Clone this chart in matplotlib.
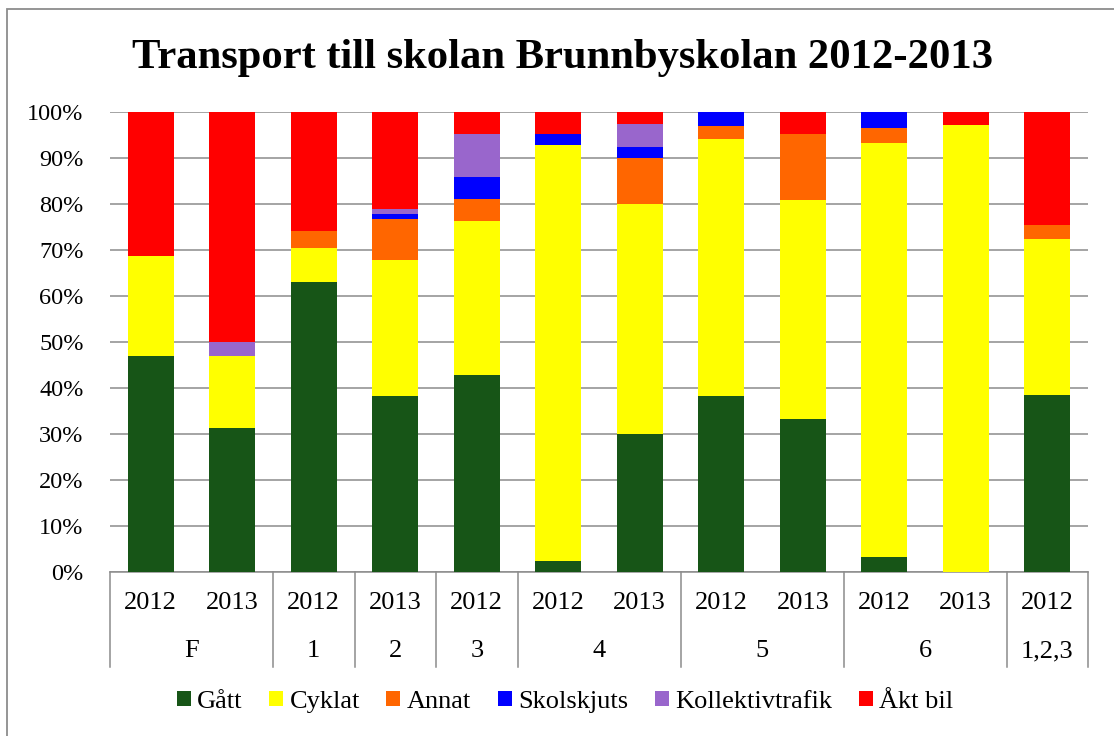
import matplotlib
matplotlib.use("Agg")
import matplotlib.pyplot as plt
from matplotlib.patches import Patch, Rectangle
from matplotlib.lines import Line2D
import numpy as np

plt.rcParams['font.family'] = ['Liberation Serif', 'DejaVu Serif']

years = ['2012', '2013', '2012', '2013', '2012', '2012', '2013', '2012', '2013', '2012', '2013', '2012']
groups = ['F', '1', '2', '3', '4', '5', '6', '1,2,3']
group_sizes = [2, 1, 1, 1, 2, 2, 2, 1]

series_names = ['Gått', 'Cyklat', 'Annat', 'Skolskjuts', 'Kollektivtrafik', 'Åkt bil']
gatt = [46.9, 31.3, 63.0, 38.3, 42.9, 2.4, 30.0, 38.2, 33.3, 3.3, 0.0, 38.5]
cyklat = [21.9, 15.6, 7.4, 29.5, 33.3, 90.5, 50.0, 55.9, 47.6, 90.0, 97.1, 33.8]
annat = [0.0, 0.0, 3.7, 9.0, 4.8, 0.0, 10.0, 2.9, 14.3, 3.3, 0.0, 3.1]
skolskjuts = [0.0, 0.0, 0.0, 1.0, 4.8, 2.4, 2.5, 2.9, 0.0, 3.3, 0.0, 0.0]
kollektiv = [0.0, 3.1, 0.0, 1.1, 9.5, 0.0, 5.0, 0.0, 0.0, 0.0, 0.0, 0.0]
akt_bil = [31.3, 50.0, 25.9, 21.1, 4.8, 4.8, 2.5, 0.0, 4.8, 0.0, 2.9, 24.6]
colors = ['#175517', '#FFFF00', '#FF6600', '#0000FF', '#9966CC', '#FF0000']

W, H = 1114, 736
fig = plt.figure(figsize=(W / 100, H / 100), dpi=100)
L, R, T, B = 110, 1088, 112, 572
ax = fig.add_axes([L / W, (H - B) / H, (R - L) / W, (B - T) / H])

x = np.arange(len(years))
bottom = np.zeros(len(years))
data = [gatt, cyklat, annat, skolskjuts, kollektiv, akt_bil]
for vals, c, name in zip(data, colors, series_names):
    v = np.array(vals)
    ax.bar(x, v, bottom=bottom, width=0.565, color=c, linewidth=0, label=name, zorder=3)
    bottom += v

ax.set_xlim(-0.5, len(years) - 0.5)
ax.set_ylim(0, 100)
ax.set_yticks(np.arange(0, 101, 10))
ax.set_yticklabels([f'{t}%' for t in range(0, 101, 10)], fontsize=17.5)
ax.tick_params(axis='y', length=0, pad=19)
ax.set_xticks([])
ax.grid(axis='y', color='#8c8c8c', linewidth=1.1, zorder=0)
ax.set_axisbelow(True)
for s in ['left', 'right', 'top']:
    ax.spines[s].set_visible(False)
ax.spines['bottom'].set_color('#8c8c8c')
ax.spines['bottom'].set_linewidth(1.1)

tr = ax.get_xaxis_transform()
sub_y = (B - 603) / (B - T)
grp_y = (B - 651) / (B - T)
line_bottom = (B - 667) / (B - T)
for i, yr in enumerate(years):
    ax.text(i, sub_y, yr, transform=tr, ha='center', va='center', fontsize=19, clip_on=False)

pos = -0.5
bounds = [pos]
for g, n in zip(groups, group_sizes):
    ax.text(pos + n / 2, grp_y, g, transform=tr, ha='center', va='center', fontsize=19, clip_on=False)
    pos += n
    bounds.append(pos)
for b in bounds:
    ax.add_line(Line2D([b, b], [0, line_bottom], transform=tr, color='#8c8c8c',
                       linewidth=1.1, clip_on=False))

fig.text(563 / W, (H - 68) / H, 'Transport till skolan Brunnbyskolan 2012-2013',
         ha='center', va='baseline', fontsize=30.7, fontweight='bold')

handles = [Patch(facecolor=c, edgecolor='none') for c in colors]
fig.legend(handles, series_names, loc='center', bbox_to_anchor=(565 / W, (H - 702) / H),
           ncol=6, frameon=False, fontsize=19, handlelength=0.53, handleheight=0.53,
           handletextpad=0.25, columnspacing=1.0, borderaxespad=0)

fig.patches.append(Rectangle((7 / W, -0.1), 2, (H - 9) / H + 0.1, transform=fig.transFigure,
                             fill=False, edgecolor='#8c8c8c', linewidth=1.3))

fig.savefig('out.png', dpi=100)
